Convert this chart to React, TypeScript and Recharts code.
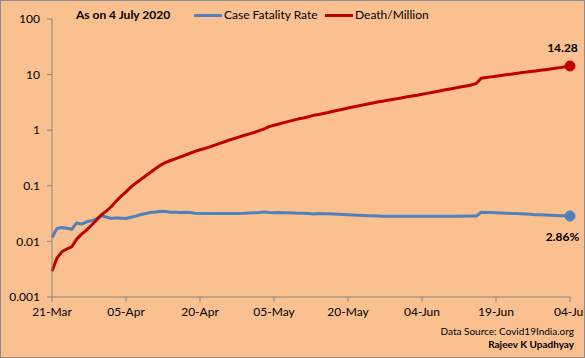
import { LineChart, Line, XAxis, YAxis } from 'recharts';

const MONTHS = ['Jan', 'Feb', 'Mar', 'Apr', 'May', 'Jun', 'Jul', 'Aug', 'Sep', 'Oct', 'Nov', 'Dec'];

// daily categories, 21-Mar-2020 .. 04-Jul-2020
const dates = Array.from({ length: 106 }, (_, i) => {
  const d = new Date(2020, 2, 21 + i);
  return `${String(d.getDate()).padStart(2, '0')}-${MONTHS[d.getMonth()]}`;
});

const xTicks = ['21-Mar', '05-Apr', '20-Apr', '05-May', '20-May', '04-Jun', '19-Jun', '04-Jul'];
const yTicks = [0.001, 0.01, 0.1, 1, 10, 100];

const caseFatalityRate = [
  0.0118, 0.017, 0.0178, 0.0172, 0.0165, 0.0215, 0.0205, 0.0225, 0.0235, 0.0255,
  0.029, 0.0275, 0.0258, 0.0265, 0.0262, 0.0258, 0.0272, 0.0285, 0.0305, 0.0318,
  0.033, 0.0338, 0.0348, 0.0345, 0.0335, 0.0333, 0.0332, 0.0335, 0.033, 0.032,
  0.0318, 0.0316, 0.0316, 0.0317, 0.0316, 0.0316, 0.0317, 0.0316, 0.0318, 0.032,
  0.0325, 0.0328, 0.0332, 0.0338, 0.033, 0.0326, 0.033, 0.0328, 0.0326, 0.0324,
  0.0322, 0.032, 0.0318, 0.0312, 0.0317, 0.0315, 0.0313, 0.031, 0.0308, 0.0306,
  0.0302, 0.0298, 0.0295, 0.0292, 0.029, 0.0288, 0.0286, 0.0284, 0.0284, 0.0283,
  0.0283, 0.0283, 0.0284, 0.0284, 0.0283, 0.0283, 0.0284, 0.0284, 0.0284, 0.0283,
  0.0284, 0.0284, 0.0284, 0.0284, 0.0285, 0.0285, 0.0285, 0.0334, 0.0332, 0.033,
  0.0327, 0.0324, 0.0321, 0.0318, 0.0316, 0.0313, 0.031, 0.0307, 0.0303, 0.03,
  0.0297, 0.0295, 0.0292, 0.029, 0.0288, 0.0286,
];

const deathPerMillion = [
  0.0029, 0.005, 0.0065, 0.0073, 0.008, 0.011, 0.0135, 0.016, 0.0195, 0.024,
  0.03, 0.035, 0.042, 0.053, 0.065, 0.078, 0.095, 0.112, 0.13, 0.152,
  0.175, 0.205, 0.235, 0.262, 0.285, 0.305, 0.33, 0.355, 0.385, 0.415,
  0.445, 0.47, 0.5, 0.54, 0.58, 0.62, 0.67, 0.71, 0.76, 0.81,
  0.86, 0.91, 0.98, 1.05, 1.16, 1.23, 1.29, 1.37, 1.44, 1.52,
  1.6, 1.66, 1.75, 1.85, 1.92, 1.99, 2.08, 2.19, 2.29, 2.39,
  2.5, 2.62, 2.73, 2.84, 2.97, 3.09, 3.22, 3.33, 3.45, 3.58,
  3.7, 3.84, 3.98, 4.12, 4.27, 4.42, 4.6, 4.78, 4.98, 5.18,
  5.38, 5.58, 5.8, 6.03, 6.26, 6.52, 6.9, 8.63, 8.87, 9.1,
  9.35, 9.62, 9.9, 10.18, 10.47, 10.78, 11.08, 11.35, 11.65, 11.95,
  12.25, 12.57, 12.95, 13.35, 13.8, 14.28,
];

const BLUE = '#4F81BD';
const RED = '#C00000';
const AXIS = '#868686';
const FONT = 'Lato, "Open Sans", sans-serif';

const series = [
  { key: 'cfr', name: 'Case Fatality Rate', color: BLUE },
  { key: 'dpm', name: 'Death/Million', color: RED },
];

export default function App() {
  const data = dates.map((date, i) => ({ date, cfr: caseFatalityRate[i], dpm: deathPerMillion[i] }));
  const last = data.length - 1;

  const endDot = (color: string) => (p: any) =>
    p.index === last ? (
      <circle key={`dot-${p.index}`} cx={p.cx} cy={p.cy} r={5} fill={color} stroke={color} />
    ) : (
      <g key={`dot-${p.index}`} />
    );

  const endLabel = (text: string, dy: number) => (p: any) =>
    p.index === last ? (
      <text
        key="end-label"
        x={p.x - 7.5}
        y={p.y + dy}
        textAnchor="middle"
        dominantBaseline="central"
        fontFamily={FONT}
        fontSize={12}
        fontWeight="bold"
        fill="#000"
      >
        {text}
      </text>
    ) : null;

  return (
    <div
      style={{
        position: 'absolute',
        left: 0,
        top: 0,
        width: 585,
        height: 358,
        background: '#FAC090',
        overflow: 'hidden',
        fontFamily: FONT,
        color: '#000',
      }}
    >
      <LineChart width={585} height={358} data={data} margin={{ top: 19, right: 15, bottom: 31, left: 0 }}>
        <XAxis
          dataKey="date"
          ticks={xTicks}
          interval={0}
          height={30}
          tickSize={5}
          tickMargin={5}
          stroke={AXIS}
          tick={{ fill: '#000', fontSize: 12, fontFamily: FONT }}
        />
        <YAxis
          type="number"
          scale="log"
          domain={[0.001, 100]}
          ticks={yTicks}
          allowDataOverflow
          width={52}
          tickSize={5}
          tickMargin={7}
          stroke={AXIS}
          tick={{ fill: '#000', fontSize: 12, fontFamily: FONT }}
          tickFormatter={(v) => String(v)}
        />
        <Line
          dataKey="cfr"
          stroke={BLUE}
          strokeWidth={3}
          strokeLinejoin="round"
          dot={endDot(BLUE)}
          activeDot={false}
          label={endLabel(`${(caseFatalityRate[last] * 100).toFixed(2)}%`, 20)}
          isAnimationActive={false}
        />
        <Line
          dataKey="dpm"
          stroke={RED}
          strokeWidth={3}
          strokeLinejoin="round"
          dot={endDot(RED)}
          activeDot={false}
          label={endLabel(deathPerMillion[last].toFixed(2), -18)}
          isAnimationActive={false}
        />
      </LineChart>

      <div style={{ position: 'absolute', left: 76, top: 8, fontSize: 12, lineHeight: '14px', fontWeight: 'bold' }}>
        As on 4 July 2020
      </div>

      {series.map((s, i) => (
        <div
          key={s.key}
          style={{
            position: 'absolute',
            left: i === 0 ? 194 : 325,
            top: 8,
            display: 'flex',
            alignItems: 'center',
            fontSize: 12,
            lineHeight: '14px',
          }}
        >
          <span style={{ display: 'inline-block', width: 28, height: 3, background: s.color, marginRight: 2 }} />
          <span>{s.name}</span>
        </div>
      ))}

      <div style={{ position: 'absolute', right: 11, top: 325, fontSize: 10, lineHeight: '12px', textAlign: 'right' }}>
        Data Source: Covid19India.org
      </div>
      <div
        style={{
          position: 'absolute',
          right: 11,
          top: 338,
          fontSize: 10,
          lineHeight: '12px',
          fontWeight: 'bold',
          textAlign: 'right',
        }}
      >
        Rajeev K Upadhyay
      </div>

      <div
        style={{
          position: 'absolute',
          left: 0,
          top: 0,
          width: 585,
          height: 358,
          boxSizing: 'border-box',
          border: '1px solid #8c8c8c',
          pointerEvents: 'none',
        }}
      />
    </div>
  );
}
